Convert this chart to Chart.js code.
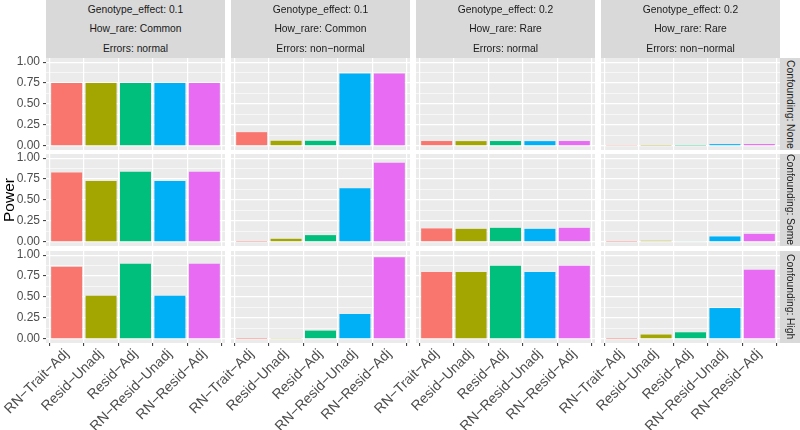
<!DOCTYPE html>
<html><head><meta charset="utf-8">
<script src="https://cdn.jsdelivr.net/npm/chart.js@4"></script>
<style>
html,body{margin:0;padding:0;background:#fff;}
#wrap{position:relative;width:800px;height:430px;overflow:hidden;font-family:"Liberation Sans",Arial,sans-serif;}
#wrap canvas{position:absolute;left:0;top:0;}
.strip{position:absolute;background:#D9D9D9;color:#1A1A1A;font-size:10.3px;text-align:center;}
.strip.top div{height:19.4px;line-height:19.4px;white-space:nowrap;}
.strip.right{writing-mode:vertical-rl;display:flex;align-items:center;justify-content:center;white-space:nowrap;}
</style></head><body><div id="wrap"></div>
<script>
// ---- data ----
const methods = ["RN\u2212Trait\u2212Adj","Resid\u2212Unadj","Resid\u2212Adj","RN\u2212Resid\u2212Unadj","RN\u2212Resid\u2212Adj"];
const colors = ["#F8766D","#A3A500","#00BF7D","#00B0F6","#E76BF3"];
const colStrips = [
  ["Genotype_effect: 0.1","How_rare: Common","Errors: normal"],
  ["Genotype_effect: 0.1","How_rare: Common","Errors: non\u2212normal"],
  ["Genotype_effect: 0.2","How_rare: Rare","Errors: normal"],
  ["Genotype_effect: 0.2","How_rare: Rare","Errors: non\u2212normal"]
];
const rowStrips = ["Confounding: None","Confounding: Some","Confounding: High"];
const yTicks = [0, 0.25, 0.5, 0.75, 1];
const yTickLabels = ["0.00","0.25","0.50","0.75","1.00"];
const yTitle = "Power";

// power per panel (Confounding x column), order of methods
const none_common_normal    = [0.752, 0.752, 0.752, 0.752, 0.752];
const none_common_nonnormal = [0.163, 0.060, 0.060, 0.866, 0.866];
const none_rare_normal      = [0.057, 0.056, 0.057, 0.056, 0.057];
const none_rare_nonnormal   = [0.004, 0.003, 0.003, 0.020, 0.021];
const some_common_normal    = [0.830, 0.728, 0.838, 0.728, 0.838];
const some_common_nonnormal = [0.002, 0.036, 0.080, 0.640, 0.945];
const some_rare_normal      = [0.160, 0.155, 0.167, 0.155, 0.167];
const some_rare_nonnormal   = [0.002, 0.012, 0.008, 0.064, 0.095];
const high_common_normal    = [0.861, 0.514, 0.897, 0.514, 0.897];
const high_common_nonnormal = [0.001, 0.010, 0.098, 0.297, 0.976];
const high_rare_normal      = [0.800, 0.800, 0.873, 0.800, 0.873];
const high_rare_nonnormal   = [0.001, 0.051, 0.078, 0.368, 0.826];

const panels = [
  [none_common_normal, none_common_nonnormal, none_rare_normal, none_rare_nonnormal],
  [some_common_normal, some_common_nonnormal, some_rare_normal, some_rare_nonnormal],
  [high_common_normal, high_common_nonnormal, high_rare_normal, high_rare_nonnormal]
];

// ---- layout ----
const W = 800, H = 430;
const panelLeft = [46, 231, 416, 601], panelW = 179;
const panelTop = [58, 154, 251], panelH = 92;
const FAM = "'Liberation Sans', Arial, sans-serif";
Chart.defaults.font.family = FAM;

const wrap = document.getElementById('wrap');

const bgPlugin = {
  id: 'panelBg',
  beforeDraw(chart) {
    const a = chart.chartArea, ctx = chart.ctx;
    ctx.save(); ctx.fillStyle = '#EBEBEB';
    ctx.fillRect(a.left, a.top, a.right - a.left, a.bottom - a.top);
    ctx.restore();
  }
};

// grid values: majors from yTicks plus minor midpoints
const yGrid = [];
yTicks.forEach((v, i) => { yGrid.push(v); if (i < yTicks.length - 1) yGrid.push((v + yTicks[i+1]) / 2); });

function zeroPad(s) { s.paddingLeft = 0; s.paddingRight = 0; s.paddingTop = 0; s.paddingBottom = 0; }

function makePanel(r, c) {
  const vals = panels[r][c];
  const cv = document.createElement('canvas');
  cv.width = W; cv.height = H; cv.style.width = W + 'px'; cv.style.height = H + 'px';
  wrap.appendChild(cv);
  const isLeft = c === 0, isBottom = r === 2;
  const yw = isLeft ? panelLeft[0] : 0;
  const xh = isBottom ? H - (panelTop[r] + panelH) : 0;
  new Chart(cv, {
    type: 'bar',
    data: { datasets: [{
      data: vals.map((v, i) => ({ x: i + 1, y: v })),
      backgroundColor: colors, borderWidth: 0,
      barPercentage: 0.9, categoryPercentage: 1
    }]},
    options: {
      responsive: false, animation: false, devicePixelRatio: 1,
      events: [],
      layout: { padding: {
        left: panelLeft[c] - yw, top: panelTop[r],
        right: W - panelLeft[c] - panelW, bottom: H - panelTop[r] - panelH - xh } },
      plugins: { legend: { display: false }, tooltip: { enabled: false } },
      scales: {
        x: {
          type: 'linear', min: 0.4, max: 5.6, offset: false,
          afterBuildTicks: s => { s.ticks = methods.map((m, i) => ({ value: i + 1 })); },
          afterFit: s => { s.height = xh; zeroPad(s); },
          grid: { color: '#FFFFFF', lineWidth: 1.2, drawTicks: isBottom, tickLength: 3,
                  tickColor: '#333333', tickWidth: 1 },
          border: { display: false },
          ticks: { display: isBottom, autoSkip: false, minRotation: 45, maxRotation: 45,
                   padding: 0, color: '#4D4D4D', font: { size: 14, family: FAM },
                   callback: v => methods[Math.round(v) - 1] }
        },
        y: {
          type: 'linear', min: -0.05, max: 1.05,
          afterBuildTicks: s => { s.ticks = yGrid.map(v => ({ value: v })); },
          afterFit: s => { s.width = yw; zeroPad(s); },
          grid: { color: '#FFFFFF',
                  lineWidth: ctx => (ctx.index % 2 === 0 ? 1.2 : 0.6),
                  drawTicks: isLeft, tickLength: 3,
                  tickColor: ctx => (ctx.index % 2 === 0 ? '#333333' : 'rgba(0,0,0,0)'),
                  tickWidth: 1 },
          border: { display: false },
          title: { display: isLeft && r === 1, text: yTitle, color: '#000000',
                   font: { size: 15.5, family: FAM }, padding: 0 },
          ticks: { display: isLeft, autoSkip: false, padding: 3, color: '#4D4D4D',
                   font: { size: 12, family: FAM },
                   callback: (v, i) => (i % 2 === 0 ? yTickLabels[i / 2] : '') }
        }
      }
    },
    plugins: [bgPlugin]
  });
}

for (let r = 0; r < 3; r++) for (let c = 0; c < 4; c++) makePanel(r, c);

// strips
colStrips.forEach((lines, c) => {
  const d = document.createElement('div');
  d.className = 'strip top';
  d.style.left = panelLeft[c] + 'px'; d.style.top = '0px';
  d.style.width = panelW + 'px'; d.style.height = panelTop[0] + 'px';
  lines.forEach(t => { const l = document.createElement('div'); l.textContent = t; d.appendChild(l); });
  wrap.appendChild(d);
});
rowStrips.forEach((t, r) => {
  const d = document.createElement('div');
  d.className = 'strip right';
  const x0 = panelLeft[3] + panelW;
  d.style.left = x0 + 'px'; d.style.top = panelTop[r] + 'px';
  d.style.width = (W - x0) + 'px'; d.style.height = panelH + 'px';
  d.textContent = t;
  wrap.appendChild(d);
});
</script></body></html>
